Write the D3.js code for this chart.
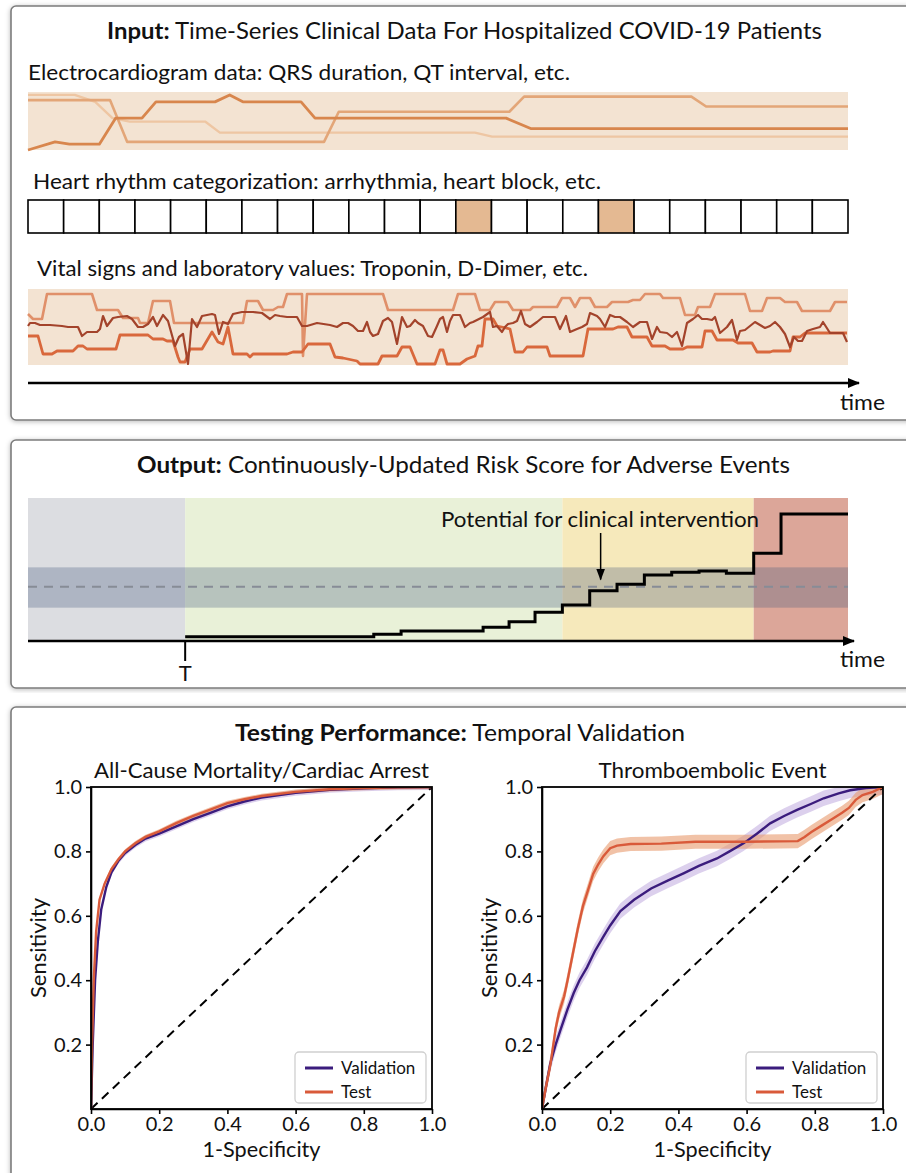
<!DOCTYPE html>
<html><head><meta charset="utf-8">
<script src="https://cdn.jsdelivr.net/npm/d3@7"></script>
<style>body{margin:0;background:#fff}svg{display:block}text{font-family:Lato,"Open Sans",sans-serif;fill:#111}</style>
</head><body>
<svg id="c" width="906" height="1173"></svg>
<script>
// ---------- DATA ----------
// ECG traces: [time 0..100, normalized value 0..1]
const ecgLineA = [[0,0],[3.3,0.14],[5.05,0.10],[8.7,0.10],[10.7,0.55],[13.9,0.55],[15.6,0.83],[22.8,0.83],[24.6,0.95],[26.2,0.83],[33.3,0.83],[35.0,0.55],[58.3,0.55],[61.3,0.37],[100,0.37]];
const ecgLineB = [[0,0.86],[10.0,0.86],[12.1,0.14],[36.1,0.14],[37.9,0.66],[58.7,0.66],[60.5,0.92],[80.9,0.92],[82.7,0.75],[100,0.75]];
const ecgLineC = [[0,0.95],[5.7,0.95],[8.2,0.83],[10.3,0.55],[12.4,0.49],[21.6,0.49],[23.4,0.30],[54.5,0.30],[56.6,0.23],[100,0.23]];
// heart rhythm categories per interval (1 = abnormal)
const rhythmFlags = [0,0,0,0,0,0,0,0,0,0,0,0,1,0,0,0,1,0,0,0,0,0,0];
// vitals / labs: [time 0..820, value 0..76]
const vitalUpper = [[0,51],[5,46],[14,46],[19,71],[64,71],[69,55],[90,55],[95,47],[110,47],[112,42],[120,42],[125,64],[142,64],[146,42],[215,42],[219,64],[230,64],[235,55],[245,55],[250,58],[255,58],[259,71],[274,71],[275,9],[279,71],[355,71],[360,55],[425,55],[430,71],[447,71],[452,55],[462,55],[467,63],[480,63],[485,55],[502,55],[505,58],[529,58],[534,67],[542,67],[547,58],[552,67],[562,67],[567,58],[579,58],[584,63],[600,63],[605,65],[612,65],[617,71],[632,71],[635,67],[652,67],[657,50],[667,50],[670,58],[682,58],[687,71],[717,71],[722,54],[734,54],[739,67],[752,67],[757,63],[769,63],[774,54],[802,54],[807,63],[819,63]];
const vitalLab = [[0,39],[2,42],[7,42],[12,40],[22,40],[34,39],[40,38],[50,38],[54,29],[59,33],[69,33],[72,36],[75,49],[79,39],[85,47],[90,48],[99,49],[104,46],[110,38],[115,38],[120,41],[125,48],[129,39],[135,50],[140,44],[147,19],[151,28],[155,31],[160,1],[164,46],[169,38],[174,49],[184,51],[187,50],[191,31],[195,43],[200,41],[205,51],[214,53],[225,53],[234,52],[242,46],[247,50],[252,49],[259,48],[269,48],[274,39],[279,39],[289,42],[302,40],[309,38],[315,42],[320,42],[325,39],[330,34],[335,34],[339,43],[342,33],[345,29],[350,31],[355,44],[360,47],[364,43],[369,21],[374,48],[379,38],[382,39],[387,45],[390,42],[395,39],[400,29],[404,28],[409,39],[412,46],[415,48],[419,33],[422,44],[425,50],[432,50],[437,38],[442,42],[445,43],[449,45],[455,48],[462,53],[465,38],[469,39],[474,33],[477,38],[480,41],[485,42],[489,44],[493,54],[497,41],[502,38],[509,43],[515,48],[522,48],[527,48],[532,36],[538,49],[542,33],[549,36],[554,38],[559,41],[562,52],[569,49],[572,46],[577,38],[582,50],[587,48],[592,48],[599,43],[605,38],[612,43],[619,43],[624,26],[629,38],[632,33],[639,32],[644,28],[649,33],[654,19],[659,42],[665,46],[670,50],[674,46],[679,46],[684,45],[687,48],[692,32],[699,38],[704,45],[709,25],[712,34],[717,35],[722,39],[727,43],[732,40],[737,37],[742,39],[747,43],[752,38],[757,31],[762,18],[766,28],[770,24],[774,24],[779,34],[785,36],[792,38],[795,43],[802,32],[815,32],[819,23]];
const vitalLower = [[0,29],[10,29],[15,11],[24,11],[29,14],[45,14],[50,19],[55,19],[59,16],[88,16],[92,30],[120,30],[125,26],[135,26],[139,24],[145,24],[150,8],[152,3],[157,3],[162,16],[174,16],[184,33],[190,23],[195,21],[200,38],[205,11],[219,11],[222,8],[225,11],[259,11],[265,13],[274,13],[280,21],[302,21],[307,8],[315,7],[329,4],[332,1],[350,1],[354,9],[369,9],[374,18],[382,18],[389,1],[407,1],[412,15],[415,15],[419,1],[432,1],[439,6],[447,9],[450,19],[454,19],[457,46],[465,46],[469,39],[482,36],[487,13],[495,13],[499,18],[519,18],[522,9],[555,9],[560,36],[585,36],[590,38],[599,38],[604,28],[619,28],[624,19],[637,19],[642,16],[655,16],[659,18],[674,18],[677,34],[684,34],[689,25],[705,25],[710,22],[724,22],[729,13],[742,13],[745,14],[762,14],[765,28],[772,28],[777,32],[819,32]];
// risk score output (time in hours relative to T)
const riskTimes  = [0,6.9,7.9,10.9,11.85,12.8,13.8,14.8,15.8,16.8,17.8,18.8,19.8,20.8,21.8];
const riskValues = [0.030,0.047,0.070,0.096,0.135,0.201,0.252,0.352,0.397,0.462,0.480,0.490,0.473,0.613,0.888];
const riskEndTime = 24.25;
const phaseBounds = [-5.75,0,13.8,20.8,24.25];
const phaseColors = ["#dcdde1","#e9f1d8","#f6e9bb","#dca699"];
const alertBand = [0.233,0.515];
const alertThreshold = 0.38;
const interventionTime = 15.2;
// ROC curves [1-specificity, sensitivity]
const mortValidation = [[0,0],[0.005,0.2],[0.012,0.4],[0.02,0.52],[0.03,0.62],[0.045,0.69],[0.06,0.735],[0.08,0.77],[0.1,0.795],[0.13,0.82],[0.16,0.84],[0.2,0.855],[0.25,0.878],[0.3,0.9],[0.35,0.92],[0.4,0.94],[0.45,0.955],[0.5,0.967],[0.6,0.982],[0.7,0.991],[0.8,0.996],[0.9,0.999],[1,1]];
const mortTest = [[0,0],[0.003,0.2],[0.008,0.4],[0.015,0.55],[0.025,0.65],[0.04,0.7],[0.06,0.745],[0.08,0.775],[0.1,0.8],[0.13,0.825],[0.16,0.845],[0.2,0.862],[0.25,0.888],[0.3,0.91],[0.35,0.93],[0.4,0.95],[0.45,0.962],[0.5,0.972],[0.6,0.985],[0.7,0.993],[0.8,0.997],[0.9,0.999],[1,1]];
const thromboValidation = [[0,0],[0.01,0.06],[0.024,0.14],[0.04,0.2],[0.054,0.245],[0.075,0.31],[0.093,0.36],[0.11,0.4],[0.132,0.44],[0.155,0.49],[0.18,0.535],[0.2,0.57],[0.23,0.615],[0.27,0.65],[0.32,0.685],[0.37,0.71],[0.415,0.732],[0.46,0.755],[0.513,0.778],[0.55,0.8],[0.591,0.825],[0.63,0.855],[0.669,0.887],[0.71,0.91],[0.748,0.929],[0.79,0.948],[0.826,0.965],[0.87,0.98],[0.904,0.99],[0.95,0.997],[1,1]];
const thromboTest = [[0,0],[0.01,0.06],[0.025,0.14],[0.04,0.25],[0.05,0.3],[0.065,0.35],[0.075,0.4],[0.09,0.48],[0.105,0.56],[0.12,0.63],[0.135,0.68],[0.15,0.73],[0.165,0.76],[0.18,0.785],[0.2,0.81],[0.22,0.818],[0.26,0.823],[0.35,0.824],[0.45,0.83],[0.6,0.83],[0.75,0.832],[0.77,0.845],[0.79,0.86],[0.82,0.88],[0.85,0.9],[0.88,0.92],[0.9,0.935],[0.92,0.96],[0.94,0.975],[0.97,0.985],[1,1]];
const ciHalfWidth = {mortValidation:0.009, mortTest:0.007, thromboValidation:0.024, thromboTest:0.022};
const fprTicks = [0,0.2,0.4,0.6,0.8,1.0];
const sensTicks = [0.2,0.4,0.6,0.8,1.0];
const seriesNames = ["Validation","Test"];
const seriesColors = ["#3b1c7d","#d95a3a"];
const bandColors = ["#b9a2dc","#e79a6c"];

// ---------- DRAW ----------
const svg = d3.select("#c");
const defs = svg.append("defs");
defs.append("filter").attr("id","sh").attr("x","-2%").attr("y","-2%").attr("width","104%").attr("height","104%")
  .append("feDropShadow").attr("dx",0).attr("dy",1).attr("stdDeviation",2.5).attr("flood-color","#000").attr("flood-opacity",0.28);
defs.append("marker").attr("id","arr").attr("markerUnits","userSpaceOnUse")
  .attr("markerWidth",12).attr("markerHeight",12).attr("refX",11).attr("refY",6).attr("orient","auto")
  .append("path").attr("d","M0,1 L12,6 L0,11 Z").attr("fill","#000");
defs.append("marker").attr("id","arrS").attr("markerUnits","userSpaceOnUse")
  .attr("markerWidth",10).attr("markerHeight",12).attr("refX",5).attr("refY",11).attr("orient","0")
  .append("path").attr("d","M0.5,0 L5,12 L9.5,0 Z").attr("fill","#000");

// panels
[[11,6,414],[11,440,248],[11,707,490]].forEach(([x,y,h])=>{
  svg.append("rect").attr("x",x).attr("y",y).attr("width",920).attr("height",h).attr("rx",5)
    .attr("fill","#fff").attr("stroke","#7c7c7c").attr("stroke-width",1.6).attr("filter","url(#sh)");
});

function label(x,y,parts,size,len,anchor){
  const t = svg.append("text").attr("x",x).attr("y",y).attr("font-size",size).attr("text-anchor",anchor||"start");
  parts.forEach(p=>t.append("tspan").attr("font-weight",p[1]?"bold":"normal").text(p[0]));
  if(len) t.attr("textLength",len).attr("lengthAdjust","spacingAndGlyphs");
  return t;
}

// ---- Panel 1 ----
label(107,39,[["Input:",1],[" Time-Series Clinical Data For Hospitalized COVID-19 Patients",0]],23,715);
label(28,80,[["Electrocardiogram data: QRS duration, QT interval, etc.",0]],21,542);
const xE = d3.scaleLinear([0,100],[28,848]);
const yE = d3.scaleLinear([0,1],[150,92]);
svg.append("rect").attr("x",xE(0)).attr("y",yE(1)).attr("width",xE(100)-xE(0)).attr("height",yE(0)-yE(1)).attr("fill","#f3e3d2");
const lineE = d3.line().x(d=>xE(d[0])).y(d=>yE(d[1]));
[[ecgLineC,"#eec6a3",2.4],[ecgLineB,"#e3a678",2.6],[ecgLineA,"#d8864d",2.8]].forEach(([d,c,w])=>{
  svg.append("path").attr("d",lineE(d)).attr("fill","none").attr("stroke",c).attr("stroke-width",w).attr("stroke-linejoin","round");
});

label(33,189,[["Heart rhythm categorization: arrhythmia, heart block, etc.",0]],21,568);
const xR = d3.scaleBand(d3.range(rhythmFlags.length),[28,848]);
svg.append("g").selectAll("rect").data(rhythmFlags).join("rect")
  .attr("x",(d,i)=>xR(i)).attr("y",200).attr("width",xR.bandwidth()).attr("height",33)
  .attr("fill",d=>d?"#e4b992":"#fff").attr("stroke","#000").attr("stroke-width",1.6);

label(37,276,[["Vital signs and laboratory values: Troponin, D-Dimer, etc.",0]],21,551);
const xV = d3.scaleLinear([0,820],[28,848]);
const yV = d3.scaleLinear([0,76],[365,289]);
svg.append("rect").attr("x",xV(0)).attr("y",yV(76)).attr("width",xV(820)-xV(0)).attr("height",yV(0)-yV(76)).attr("fill","#f3e3d2");
const lineV = d3.line().x(d=>xV(d[0])).y(d=>yV(d[1]));
[[vitalUpper,"#e0906a",2.6],[vitalLower,"#d9683c",2.8],[vitalLab,"#a3432b",2.2]].forEach(([d,c,w])=>{
  svg.append("path").attr("d",lineV(d)).attr("fill","none").attr("stroke",c).attr("stroke-width",w).attr("stroke-linejoin","round");
});
svg.append("line").attr("x1",28).attr("x2",859).attr("y1",383).attr("y2",383).attr("stroke","#000").attr("stroke-width",2.5).attr("marker-end","url(#arr)");
label(840,410,[["time",0]],21,45);

// ---- Panel 2 ----
label(137,473,[["Output:",1],[" Continuously-Updated Risk Score for Adverse Events",0]],23,653);
const xO = d3.scaleLinear([phaseBounds[0],phaseBounds[4]],[28,848]);
const yO = d3.scaleLinear([0,1],[641,498]);
for(let i=0;i<4;i++){
  svg.append("rect").attr("x",xO(phaseBounds[i])).attr("y",yO(1)).attr("width",xO(phaseBounds[i+1])-xO(phaseBounds[i]))
    .attr("height",yO(0)-yO(1)).attr("fill",phaseColors[i]);
}
svg.append("rect").attr("x",xO(phaseBounds[0])).attr("y",yO(alertBand[1])).attr("width",xO(phaseBounds[4])-xO(phaseBounds[0]))
  .attr("height",yO(alertBand[0])-yO(alertBand[1])).attr("fill","rgb(70,90,125)").attr("fill-opacity",0.3);
svg.append("line").attr("x1",xO(phaseBounds[0])).attr("x2",xO(phaseBounds[4])).attr("y1",yO(alertThreshold)).attr("y2",yO(alertThreshold))
  .attr("stroke","#878c96").attr("stroke-width",2).attr("stroke-dasharray","9,7");
const riskPts = riskTimes.map((t,i)=>[t,riskValues[i]]).concat([[riskEndTime,riskValues[riskValues.length-1]]]);
svg.append("path").attr("d",d3.line().x(d=>xO(d[0])).y(d=>yO(d[1])).curve(d3.curveStepAfter)(riskPts))
  .attr("fill","none").attr("stroke","#000").attr("stroke-width",3);
svg.append("line").attr("x1",xO(phaseBounds[0])).attr("x2",xO(phaseBounds[4])+6).attr("y1",yO(0)).attr("y2",yO(0))
  .attr("stroke","#000").attr("stroke-width",2.5).attr("marker-end","url(#arr)");
svg.append("line").attr("x1",xO(0)).attr("x2",xO(0)).attr("y1",yO(0)).attr("y2",yO(0)+20).attr("stroke","#000").attr("stroke-width",2);
label(xO(0),681,[["T",0]],22,null,"middle");
label(840,667,[["time",0]],21,45);
label(600,527,[["Potential for clinical intervention",0]],22,318,"middle");
svg.append("line").attr("x1",xO(interventionTime)).attr("x2",xO(interventionTime)).attr("y1",533).attr("y2",yO(0.43))
  .attr("stroke","#000").attr("stroke-width",1.5).attr("marker-end","url(#arrS)");

// ---- Panel 3 ----
label(235,741,[["Testing Performance:",1],[" Temporal Validation",0]],23,450);

function roc(x0,x1,title,titleLen,val,test,hv,ht){
  const x = d3.scaleLinear([0,1],[x0,x1]);
  const y = d3.scaleLinear([0,1],[1109,787]);
  const g = svg.append("g");
  const cid = "clip"+x0;
  defs.append("clipPath").attr("id",cid).append("rect").attr("x",x0).attr("y",787).attr("width",x1-x0).attr("height",322);
  const area = h=>d3.area().x(d=>x(d[0])).y0(d=>y(Math.max(0,d[1]-h))).y1(d=>y(Math.min(1,d[1]+h)));
  const line = d3.line().x(d=>x(d[0])).y(d=>y(d[1]));
  const pg = g.append("g").attr("clip-path",`url(#${cid})`);
  pg.append("path").attr("d",area(hv)(val)).attr("fill",bandColors[0]).attr("fill-opacity",0.5);
  pg.append("path").attr("d",area(ht)(test)).attr("fill",bandColors[1]).attr("fill-opacity",0.6);
  pg.append("line").attr("x1",x(0)).attr("y1",y(0)).attr("x2",x(1)).attr("y2",y(1)).attr("stroke","#000").attr("stroke-width",2).attr("stroke-dasharray","9,6");
  pg.append("path").attr("d",line(val)).attr("fill","none").attr("stroke",seriesColors[0]).attr("stroke-width",2.4);
  pg.append("path").attr("d",line(test)).attr("fill","none").attr("stroke",seriesColors[1]).attr("stroke-width",2.4);
  const ax = g.append("g").attr("transform",`translate(0,${y(0)})`)
    .call(d3.axisBottom(x).tickValues(fprTicks).tickFormat(d3.format(".1f")).tickSize(5).tickSizeOuter(0));
  const ay = g.append("g").attr("transform",`translate(${x(0)},0)`)
    .call(d3.axisLeft(y).tickValues(sensTicks).tickFormat(d3.format(".1f")).tickSize(5).tickSizeOuter(0));
  [ax,ay].forEach(a=>{
    a.selectAll("path,line").attr("stroke","#000").attr("stroke-width",1.6);
    a.selectAll("text").attr("font-size",20).attr("fill","#111").style("font-family","Lato,sans-serif");
  });
  ax.selectAll("text").attr("dy","0.7em");
  ay.selectAll("text").attr("dx","-1px");
  g.append("rect").attr("x",x(0)).attr("y",y(1)).attr("width",x(1)-x(0)).attr("height",y(0)-y(1))
    .attr("fill","none").attr("stroke","#000").attr("stroke-width",1.8);
  label((x0+x1)/2,778,[[title,0]],21,titleLen,"middle");
  label((x0+x1)/2,1157,[["1-Specificity",0]],21,118,"middle");
  svg.append("text").attr("transform",`translate(${x0-45},948) rotate(-90)`).attr("text-anchor","middle")
    .attr("font-size",21).attr("textLength",100).attr("lengthAdjust","spacingAndGlyphs").text("Sensitivity");
  // legend
  const lx = x1-137, ly = 1052;
  g.append("rect").attr("x",lx).attr("y",ly).attr("width",131).attr("height",51).attr("rx",4)
    .attr("fill","#fff").attr("fill-opacity",0.85).attr("stroke","#cfcfcf").attr("stroke-width",1.3);
  seriesNames.forEach((n,i)=>{
    const yy = ly+16+i*24;
    g.append("line").attr("x1",lx+10).attr("x2",lx+38).attr("y1",yy).attr("y2",yy).attr("stroke",seriesColors[i]).attr("stroke-width",3);
    g.append("text").attr("x",lx+46).attr("y",yy+6).attr("font-size",17).text(n);
  });
}
roc(91,432,"All-Cause Mortality/Cardiac Arrest",335,mortValidation,mortTest,ciHalfWidth.mortValidation,ciHalfWidth.mortTest);
roc(542,883,"Thromboembolic Event",228,thromboValidation,thromboTest,ciHalfWidth.thromboValidation,ciHalfWidth.thromboTest);
</script>
</body></html>
